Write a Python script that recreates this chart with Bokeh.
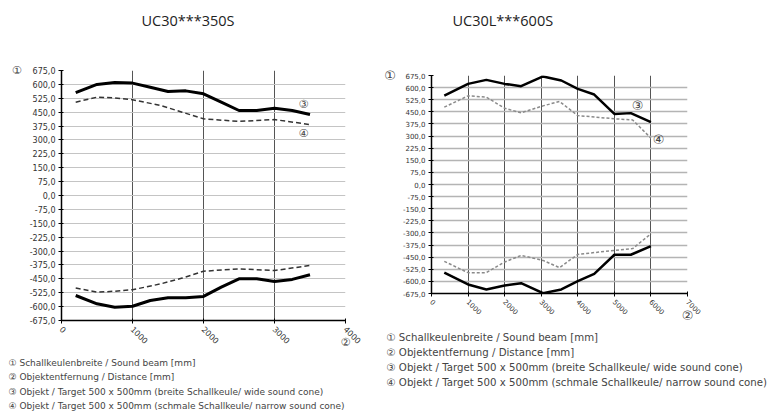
import math
from bokeh.plotting import figure
from bokeh.layouts import row, column
from bokeh.models import Range1d, FixedTicker, Label, Spacer
from bokeh.embed import file_html
from bokeh.resources import INLINE

# ---------------- data ----------------
titles = ["UC30***350S", "UC30L***600S"]

y_ticks = [-675, -600, -525, -450, -375, -300, -225, -150, -75, 0,
           75, 150, 225, 300, 375, 450, 525, 600, 675]
y_labels = ["-675,0", "-600,0", "-525,0", "-450,0", "-375,0", "-300,0", "-225,0", "-150,0", "-75,0", "0,0",
            "75,0", "150,0", "225,0", "300,0", "375,0", "450,0", "525,0", "600,0", "675,0"]

left_x_ticks = [0, 1000, 2000, 3000, 4000]
right_x_ticks = [0, 1000, 2000, 3000, 4000, 5000, 6000, 7000]

# UC30***350S
left_x_wide = [200, 500, 750, 1000, 1250, 1500, 1750, 2000, 2250, 2500, 2750, 3000, 3250, 3500]
left_wide_upper = [555, 600, 610, 607, 585, 562, 565, 549, 504, 459, 459, 471, 459, 437]
left_wide_lower = [-540, -585, -603, -598, -567, -552, -552, -545, -495, -450, -450, -464, -453, -428]
left_x_narrow = [200, 500, 750, 1000, 1400, 1700, 2000, 2500, 3000, 3500]
left_narrow_upper = [504, 531, 527, 517, 486, 450, 414, 400, 410, 383]
left_narrow_lower = [-500, -522, -517, -509, -477, -446, -409, -396, -405, -378]

# UC30L***600S
right_x_wide = [350, 1000, 1500, 2000, 2450, 3050, 3550, 4000, 4450, 5000, 5450, 6000]
right_wide_upper = [551, 623, 648, 623, 609, 669, 644, 592, 557, 437, 442, 386]
right_wide_lower = [-546, -619, -650, -625, -611, -673, -650, -599, -553, -435, -435, -382]
right_x_narrow = [350, 1000, 1500, 2000, 2450, 3050, 3500, 4000, 5000, 5500, 6000]
right_narrow_upper = [479, 549, 541, 472, 444, 487, 514, 427, 407, 400, 287]
right_narrow_lower = [-476, -546, -546, -480, -439, -470, -515, -433, -408, -397, -305]

legend_lines = ["\u2460 Schallkeulenbreite / Sound beam [mm]",
                "\u2461 Objektentfernung / Distance [mm]",
                "\u2462 Objekt / Target 500 x 500mm (breite Schallkeule/ wide sound cone)",
                "\u2463 Objekt / Target 500 x 500mm (schmale Schallkeule/ narrow sound cone)"]
marks = ["\u2460", "\u2461", "\u2462", "\u2463"]

FONT = "DejaVu Sans"


def set_if(model, name, val):
    if name in model.properties():
        setattr(model, name, val)


def make_fig(width, height, bl, br, bt, bb, xmax, xticks, ysize, xsize, mark_size,
             y_standoff, x_standoff, hgrid_color, hgrid_width):
    p = figure(width=width, height=height, x_range=Range1d(0, xmax), y_range=Range1d(-675, 675),
               output_backend="svg", toolbar_location=None,
               min_border_left=bl, min_border_right=br, min_border_top=bt, min_border_bottom=bb)
    p.outline_line_color = None
    p.xaxis.ticker = FixedTicker(ticks=xticks)
    p.yaxis.ticker = FixedTicker(ticks=y_ticks)
    p.yaxis.major_label_overrides = {t: l for t, l in zip(y_ticks, y_labels)}
    for ax in (p.xaxis[0], p.yaxis[0]):
        ax.axis_line_color = "black"
        ax.axis_line_width = 1.5
        ax.major_tick_out = 3
        ax.major_tick_in = 2
        ax.minor_tick_out = 0
        ax.minor_tick_in = 0
        ax.major_tick_line_color = "black"
        ax.major_label_text_font = FONT
        ax.major_label_text_color = "#333333"
        ax.axis_label_text_font = FONT
        ax.axis_label_text_font_style = "normal"
        ax.axis_label_text_font_size = mark_size
        ax.axis_label_text_color = "#444444"
        set_if(ax, "axis_label_align", "end")
        set_if(ax, "axis_label_orientation", "horizontal")
    p.yaxis.axis_label = marks[0]
    p.xaxis.axis_label = marks[1]
    p.yaxis.axis_label_text_baseline = "top"
    p.yaxis.axis_label_standoff = y_standoff
    p.xaxis.axis_label_standoff = x_standoff
    p.yaxis.major_label_text_font_size = ysize
    p.yaxis.major_label_standoff = 3
    p.xaxis.major_label_text_font_size = xsize
    p.xaxis.major_label_orientation = -math.pi / 4
    p.xaxis.major_label_standoff = 4
    p.ygrid.grid_line_color = hgrid_color
    p.ygrid.grid_line_width = hgrid_width
    p.xgrid.grid_line_color = "#555555"
    p.xgrid.grid_line_width = 1
    return p


def text_fig(w, h):
    f = figure(width=w, height=h, x_range=Range1d(0, w), y_range=Range1d(h, 0),
               x_axis_type=None, y_axis_type=None, output_backend="svg",
               toolbar_location=None, min_border=0)
    f.outline_line_color = None
    f.grid.visible = False
    return f


def add_label(p, x, y, text, size, units="data", color="#444444", align="left", font=FONT):
    p.add_layout(Label(x=x, y=y, x_units=units, y_units=units, text=text,
                       text_font=font, text_font_size=size, text_color=color,
                       text_baseline="middle", text_align=align))


# ---------- left column ----------
tL = text_fig(379, 62)
add_label(tL, 141, 20, titles[0], "14.5px", color="#222222", font="Open Sans")

p1 = make_fig(379, 295, 60, 35, 8, 37, 4000, left_x_ticks, "8px", "8px", "11px", 5, -14,
              "#c4c4c4", 1.2)
p1.line(left_x_wide, left_wide_upper, line_color="black", line_width=3)
p1.line(left_x_wide, left_wide_lower, line_color="black", line_width=3)
p1.line(left_x_narrow, left_narrow_upper, line_color="#333333", line_width=1.5, line_dash="5 3")
p1.line(left_x_narrow, left_narrow_lower, line_color="#333333", line_width=1.5, line_dash="5 3")
add_label(p1, 242, 216, marks[2], "11px", units="screen", align="center")
add_label(p1, 242, 187, marks[3], "11px", units="screen", align="center")

legL = text_fig(379, 55)
for i, t in enumerate(legend_lines):
    add_label(legL, 8, 5 + 14.5 * i, t, "9px")

# ---------- right column ----------
tR = text_fig(392, 67)
add_label(tR, 72, 20, titles[1], "14.5px", color="#222222", font="Open Sans")

p2 = make_fig(392, 262, 50, 86, 8, 36, 7000, right_x_ticks, "7px", "7px", "13px", 4, -12,
              "#b4b4b4", 1.5)
p2.line(right_x_wide, right_wide_upper, line_color="black", line_width=2.5)
p2.line(right_x_wide, right_wide_lower, line_color="black", line_width=2.5)
p2.line(right_x_narrow, right_narrow_upper, line_color="#8a8a8a", line_width=1.5, line_dash="3 2")
p2.line(right_x_narrow, right_narrow_lower, line_color="#8a8a8a", line_width=1.5, line_dash="3 2")
add_label(p2, 206, 188, marks[2], "13px", units="screen", align="center")
add_label(p2, 227, 154, marks[3], "13px", units="screen", align="center")

legR = text_fig(392, 83)
for i, t in enumerate(legend_lines):
    add_label(legR, 6, 7.7 + 15.2 * i, t, "10.2px")

left_col = column(tL, row(Spacer(width=1, height=295), p1), legL)
right_col = column(tR, row(Spacer(width=1, height=262), p2), legR)
layout = row(left_col, right_col)
open("out.html", "w").write(file_html(layout, INLINE))
